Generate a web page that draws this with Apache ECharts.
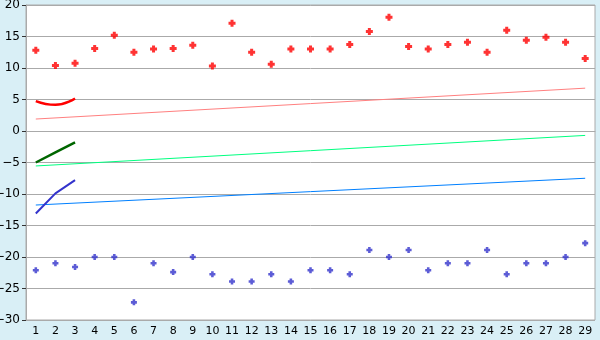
<!DOCTYPE html>
<html><head><meta charset="utf-8">
<script src="https://cdn.jsdelivr.net/npm/echarts@6/dist/echarts.min.js"></script>
<style>html,body{margin:0;padding:0;background:#d9eff6;}#c{width:600px;height:340px;}</style>
</head><body><div id="c"></div>
<script>
const categories = ['1','2','3','4','5','6','7','8','9','10','11','12','13','14','15','16','17','18','19','20','21','22','23','24','25','26','27','28','29'];
const redPoints = [12.8,10.4,10.75,13.1,15.2,12.5,13.0,13.1,13.6,10.3,17.1,12.5,10.6,13.0,13.0,13.0,13.75,15.8,18.05,13.4,13.0,13.75,14.1,12.5,16.0,14.4,14.9,14.1,11.5];
const bluePoints = [-22.1,-21.0,-21.6,-20.0,-20.0,-27.2,-21.0,-22.4,-20.0,-22.75,-23.9,-23.9,-22.75,-23.9,-22.1,-22.1,-22.75,-18.9,-20.0,-18.9,-22.1,-21.0,-21.0,-18.9,-22.75,-21.0,-21.0,-20.0,-17.8];
const redCurve = [4.75,4.15,5.15];
const greenCurve = [-5.0,-3.4,-1.8];
const blueCurve = [-13.1,-9.9,-7.8];
const pinkTrend = [['1',1.9],['29',6.8]];
const greenTrend = [['1',-5.55],['29',-0.7]];
const blueTrend = [['1',-11.75],['29',-7.5]];
const yMin = -30, yMax = 20, yStep = 5;

const plus = 'path://M2,0H5V2H7V5H5V7H2V5H0V2H2Z';
const font = 'DejaVu Sans';
const chart = echarts.init(document.getElementById('c'), null, {renderer:'canvas'});
chart.setOption({
  animation:false,
  backgroundColor:'#d9eff6',
  grid:{left:26,right:5,top:5,bottom:20,containLabel:false,outerBoundsMode:'none',show:true,backgroundColor:'#fff',borderColor:'#aaa',borderWidth:1},
  xAxis:{type:'category',data:categories,boundaryGap:true,
    axisLine:{lineStyle:{color:'#aaa'}},
    axisTick:{alignWithLabel:true,length:5,lineStyle:{color:'#333'}},
    axisLabel:{color:'#000',fontFamily:font,fontSize:11,margin:6,interval:0},
    splitLine:{show:false}},
  yAxis:{type:'value',min:yMin,max:yMax,interval:yStep,
    axisLine:{show:true,lineStyle:{color:'#aaa'}},
    axisTick:{show:true,length:4,lineStyle:{color:'#333'}},
    axisLabel:{color:'#000',fontFamily:font,fontSize:12,margin:6,formatter:v=>String(v).replace('-','\u2212')},
    splitLine:{lineStyle:{color:'#aaa',width:1}}},
  series:[
    {type:'line',data:pinkTrend,symbol:'none',lineStyle:{color:'#ff8080',width:1},z:2},
    {type:'line',data:greenTrend,symbol:'none',lineStyle:{color:'#00ff80',width:1},z:2},
    {type:'line',data:blueTrend,symbol:'none',lineStyle:{color:'#0080ff',width:1},z:2},
    {type:'line',data:redCurve,symbol:'none',smooth:true,lineStyle:{color:'#ff0000',width:2.5},z:3},
    {type:'line',data:greenCurve,symbol:'none',lineStyle:{color:'#006600',width:2.5},z:3},
    {type:'line',data:blueCurve,symbol:'none',lineStyle:{color:'#3333cc',width:2},z:3},
    {type:'scatter',data:redPoints,symbol:plus,symbolSize:7,itemStyle:{color:'#ff0000'},z:4},
    {type:'scatter',data:bluePoints,symbol:plus,symbolSize:6,itemStyle:{color:'#3333cc'},z:4}
  ]
});
</script></body></html>
